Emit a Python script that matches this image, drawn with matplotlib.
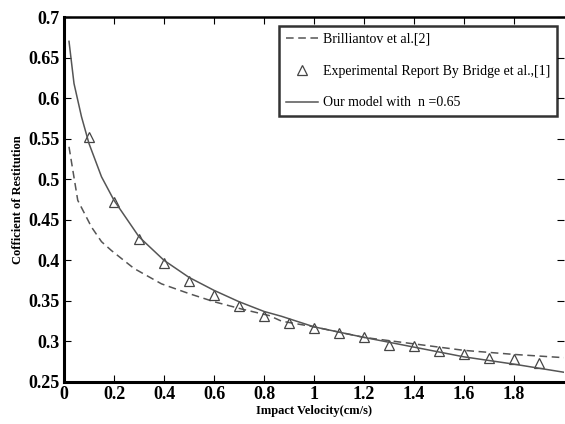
import matplotlib
matplotlib.use("Agg")
import matplotlib.pyplot as plt

# Experimental data (Bridge et al.)
exp_x = [0.1, 0.2, 0.3, 0.4, 0.5, 0.6, 0.7, 0.8, 0.9, 1.0, 1.1, 1.2, 1.3, 1.4, 1.5, 1.6, 1.7, 1.8, 1.9]
exp_y = [0.552, 0.472, 0.426, 0.397, 0.375, 0.357, 0.344, 0.331, 0.323, 0.317, 0.311, 0.306,
         0.296, 0.294, 0.288, 0.284, 0.279, 0.278, 0.274]

# Our model curve
model_x = [0.02, 0.04, 0.07, 0.10, 0.15, 0.20, 0.30, 0.40, 0.50, 0.60, 0.70, 0.80, 0.87,
           1.0, 1.2, 1.4, 1.6, 1.8, 2.0]
model_y = [0.670, 0.618, 0.577, 0.544, 0.503, 0.474, 0.429, 0.400, 0.379, 0.363, 0.349, 0.337,
           0.331, 0.318, 0.305, 0.293, 0.281, 0.272, 0.262]

# Brilliantov et al. curve
bril_x = [0.02, 0.055, 0.07, 0.11, 0.15, 0.19, 0.28, 0.39, 0.50, 0.60, 0.71, 0.82, 0.87,
          1.0, 1.2, 1.4, 1.6, 1.8, 2.0]
bril_y = [0.540, 0.474, 0.465, 0.441, 0.423, 0.412, 0.390, 0.371, 0.359, 0.349, 0.340, 0.332,
          0.325, 0.318, 0.305, 0.297, 0.289, 0.284, 0.280]

xticks = [0, 0.2, 0.4, 0.6, 0.8, 1, 1.2, 1.4, 1.6, 1.8]
xticklabels = ["0", "0.2", "0.4", "0.6", "0.8", "1", "1.2", "1.4", "1.6", "1.8"]
yticks = [0.25, 0.3, 0.35, 0.4, 0.45, 0.5, 0.55, 0.6, 0.65, 0.7]
yticklabels = ["0.25", "0.3", "0.35", "0.4", "0.45", "0.5", "0.55", "0.6", "0.65", "0.7"]

plt.rcParams['font.family'] = ['Liberation Serif', 'DejaVu Serif']

fig = plt.figure(figsize=(5.65, 4.24), dpi=100)
ax = fig.add_axes([64/565, 42/424, 500/565, 365/424])

ax.plot(bril_x, bril_y, linestyle=(0, (5, 3)), color='#555555', lw=1.1,
        label='Brilliantov et al.[2]')
ax.plot(exp_x, exp_y, linestyle='none', marker='^', markersize=7, markerfacecolor='none',
        markeredgecolor='#444444', markeredgewidth=0.9,
        label='Experimental Report By Bridge et al.,[1]')
ax.plot(model_x, model_y, color='#555555', lw=1.1, label='Our model with  n =0.65')

ax.set_xlim(0, 2.0)
ax.set_ylim(0.25, 0.7)
ax.set_xticks(xticks)
ax.set_xticklabels(xticklabels)
ax.set_yticks(yticks)
ax.set_yticklabels(yticklabels)
ax.tick_params(direction='in', length=5, width=0.8, top=True, right=True,
               labelsize=13, pad=3)
for lab in ax.get_xticklabels() + ax.get_yticklabels():
    lab.set_fontweight('bold')

ax.spines['left'].set_linewidth(2.2)
ax.spines['bottom'].set_linewidth(2.2)
ax.spines['top'].set_linewidth(1.8)
ax.spines['right'].set_visible(False)

ax.set_xlabel('Impact Velocity(cm/s)', fontsize=9, fontweight='bold', labelpad=1)
ax.set_ylabel('Cofficient of Restitution', fontsize=9, fontweight='bold', labelpad=3)

leg = ax.legend(loc='upper right', bbox_to_anchor=((557-64)/500, (382-26)/365), fontsize=10,
                frameon=True, fancybox=False, edgecolor='black', handlelength=2.3,
                labelspacing=1.35, borderpad=0.5, handletextpad=0.35, borderaxespad=0)
leg.get_frame().set_linewidth(1.8)

fig.savefig('out.png', dpi=100)
